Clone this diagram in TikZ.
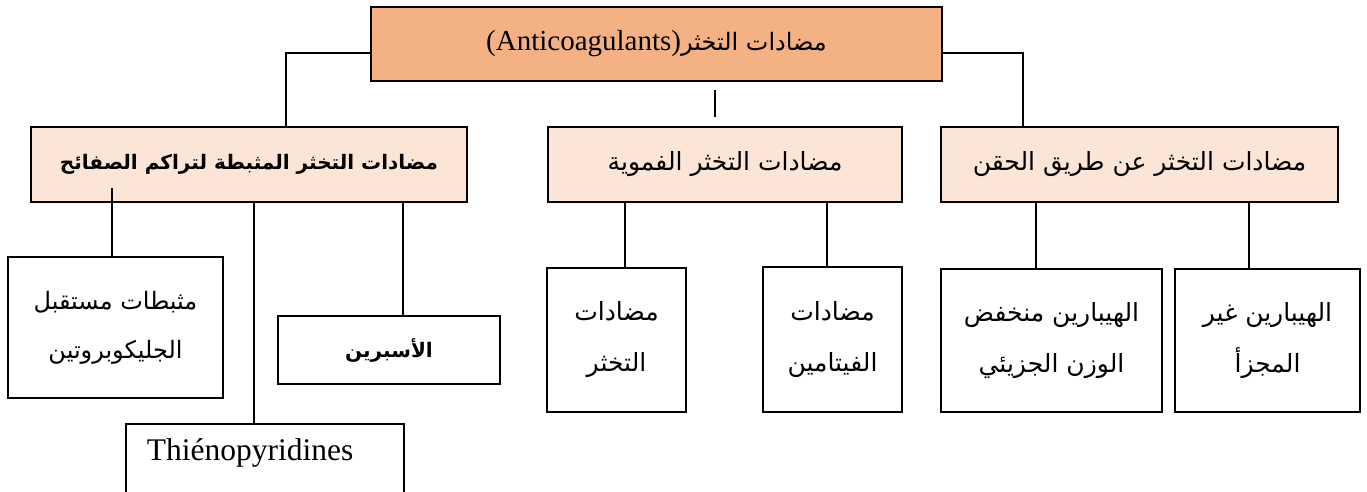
\documentclass[tikz,border=0pt]{standalone}
\usepackage{fontspec}
\setmainfont{Liberation Serif}
\newfontfamily\arabicfont[Script=Arabic]{DejaVu Sans}
\TeXXeTstate=1
\definecolor{topfill}{HTML}{F4B183}
\definecolor{midfill}{HTML}{FBE5D6}
\tikzset{
  box/.style={draw=black, line width=1.6pt, inner sep=0pt, align=center},
  lvltop/.style={box, fill=topfill},
  lvlmid/.style={box, fill=midfill},
  leaf/.style={box, fill=white},
  conn/.style={line width=1.6pt},
  ar/.style={font=\arabicfont\fontsize{25}{51}\selectfont},
  arglyco/.style={font=\arabicfont\fontsize{24}{49}\selectfont},
  armid/.style={font=\arabicfont\fontsize{25}{30}\selectfont},
  arbold/.style={font=\arabicfont\bfseries\fontsize{20}{30}\selectfont},
}
\begin{document}
\begin{tikzpicture}[x=1pt,y=-1pt]
\useasboundingbox (0,0) rectangle (1367,491);
\clip (0,0) rectangle (1367,491);
% top
\node[lvltop, minimum width=571pt, minimum height=74pt] (top) at (656.5,44)
  {{\fontsize{29}{34}\selectfont (Anticoagulants)}{\arabicfont\fontsize{24}{30}\selectfont\beginR مضادات التخثر\endR}};
% level 2
\node[lvlmid, arbold, minimum width=436pt, minimum height=75pt] (plat) at (249,164.5)
  {\beginR مضادات التخثر المثبطة لتراكم الصفائح\endR};
\node[lvlmid, armid, minimum width=354pt, minimum height=75pt] (oral) at (725,164.5)
  {\beginR مضادات التخثر الفموية\endR};
\node[lvlmid, armid, minimum width=397pt, minimum height=75pt] (inj) at (1139.5,164.5)
  {\beginR مضادات التخثر عن طريق الحقن\endR};
% leaves
\node[leaf, arglyco, minimum width=215pt, minimum height=141pt] (glyco) at (115.5,327.5)
  {\beginR مثبطات مستقبل\endR\\\beginR الجليكوبروتين\endR};
\node[leaf, arbold, minimum width=222pt, minimum height=68pt] (asp) at (389,350)
  {\beginR الأسبرين\endR};
\node[leaf, minimum width=278pt, minimum height=100pt, anchor=north west] (thieno) at (125,423) {};
\node[font=\fontsize{31.5}{36}\selectfont, inner sep=0pt] (thienotext) at (250,453) {Thiénopyridines};
\node[leaf, ar, minimum width=139pt, minimum height=144pt] (anticlot) at (616.5,340)
  {\beginR مضادات\endR\\\beginR التخثر\endR};
\node[leaf, ar, minimum width=139pt, minimum height=145pt] (vitk) at (832.5,339.5)
  {\beginR مضادات\endR\\\beginR الفيتامين\endR};
\node[leaf, ar, minimum width=221pt, minimum height=143pt] (lmw) at (1051.5,340.5)
  {\beginR الهيبارين منخفض\endR\\\beginR الوزن الجزيئي\endR};
\node[leaf, ar, minimum width=185pt, minimum height=143pt] (ufh) at (1267.5,340.5)
  {\beginR الهيبارين غير\endR\\\beginR المجزأ\endR};
% connectors
\draw[conn] ([yshift=-9pt]top.west) -| ([xshift=37pt]plat.north);
\draw[conn] ([yshift=-9pt]top.east) -| ([xshift=-116.5pt]inj.north);
\coordinate (s1) at (715,90);
\coordinate (s2) at (715,117);
\draw[conn] (s1) -- (s2);
\coordinate (g1) at (112,188);
\draw[conn] (g1) -- (g1 |- glyco.north);
\draw[conn] ([xshift=-11pt]thieno.north |- plat.south) -- ([xshift=-11pt]thieno.north);
\draw[conn] ([xshift=14pt]asp.north |- plat.south) -- ([xshift=14pt]asp.north);
\draw[conn] ([xshift=8.5pt]anticlot.north |- oral.south) -- ([xshift=8.5pt]anticlot.north);
\draw[conn] ([xshift=-5.5pt]vitk.north |- oral.south) -- ([xshift=-5.5pt]vitk.north);
\draw[conn] ([xshift=-15.5pt]lmw.north |- inj.south) -- ([xshift=-15.5pt]lmw.north);
\draw[conn] ([xshift=-18.5pt]ufh.north |- inj.south) -- ([xshift=-18.5pt]ufh.north);
\end{tikzpicture}
\end{document}
